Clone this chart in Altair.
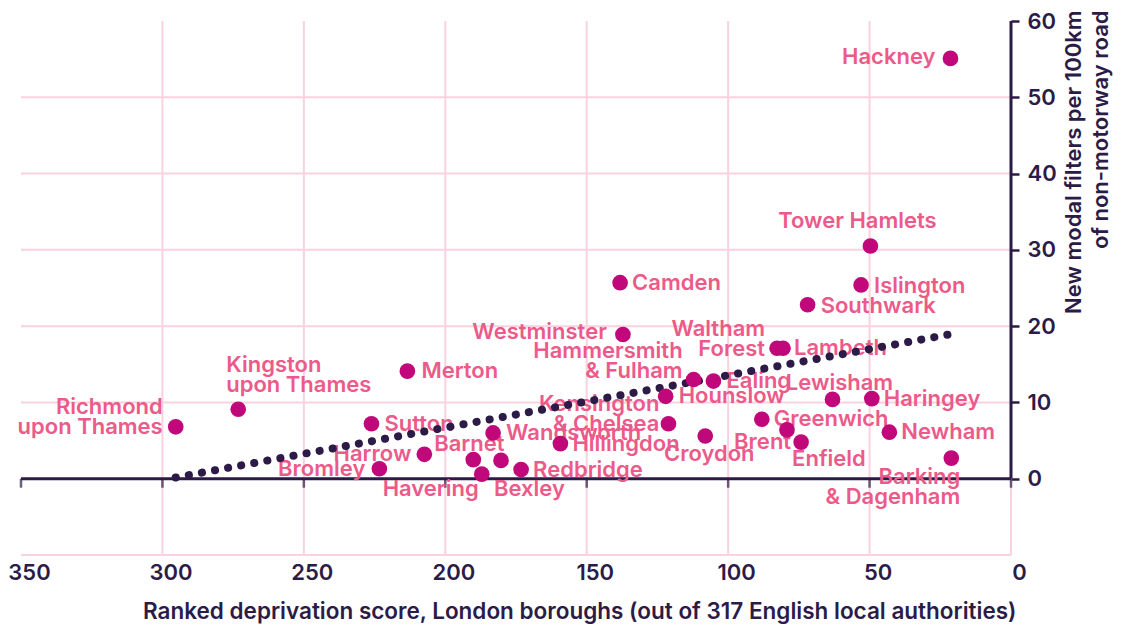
import altair as alt
import pandas as pd

# ---- data ----
boroughs = [
    "Richmond\nupon Thames", "Kingston\nupon Thames", "Merton", "Sutton", "Harrow", "Bromley",
    "Barnet", "Havering", "Bexley", "Redbridge", "Wandsworth", "Hillingdon",
    "Camden", "Westminster", "Kensington\n& Chelsea", "Hounslow", "Hammersmith\n& Fulham",
    "Ealing", "Croydon", "Waltham\nForest", "Lambeth", "Greenwich", "Enfield", "Brent",
    "Southwark", "Lewisham", "Haringey", "Tower Hamlets", "Islington", "Newham",
    "Barking\n& Dagenham", "Hackney",
]
deprivation_rank = [
    295.3, 273.2, 213.4, 226.1, 207.4, 223.3,
    190.1, 187.1, 180.3, 173.2, 183.1, 159.3,
    138.2, 137.2, 121.1, 122.1, 112.2,
    105.2, 108.1, 82.7, 80.6, 88.1, 79.2, 74.2,
    71.9, 63.1, 49.2, 49.7, 53.0, 43.0,
    21.1, 21.4,
]
modal_filters = [
    6.8, 9.1, 14.1, 7.2, 3.2, 1.3,
    2.5, 0.6, 2.4, 1.2, 6.0, 4.6,
    25.7, 18.9, 7.2, 10.8, 13.0,
    12.8, 5.6, 17.1, 17.1, 7.8, 6.4, 4.8,
    22.8, 10.4, 10.5, 30.5, 25.4, 6.1,
    2.7, 55.1,
]
x_ticks = [350, 300, 250, 200, 150, 100, 50, 0]
y_ticks = [0, 10, 20, 30, 40, 50, 60]
x_grid = [300, 250, 200, 150, 100, 50, 0]
y_grid = [-10, 0, 10, 20, 30, 40, 50]

# label placement (align, dx, dy) in pixels; dy is the first line's centre
label_place = {
    "Hackney": ("right", -15, -1),
    "Tower Hamlets": ("center", -13, -25),
    "Islington": ("left", 13, 1),
    "Southwark": ("left", 13, 1),
    "Camden": ("left", 12, 0),
    "Westminster": ("right", -16, -3),
    "Hammersmith\n& Fulham": ("right", -11, -29),
    "Waltham\nForest": ("right", -12, -19),
    "Lambeth": ("left", 11, 0),
    "Ealing": ("left", 13, 0),
    "Hounslow": ("left", 13, 0),
    "Kensington\n& Chelsea": ("right", -9, -20),
    "Lewisham": ("center", 7, -16),
    "Haringey": ("left", 12, 0),
    "Greenwich": ("left", 12, 0),
    "Brent": ("right", -10, 0),
    "Enfield": ("center", 42, 29),
    "Croydon": ("center", 4, 18),
    "Newham": ("left", 12, 0),
    "Barking\n& Dagenham": ("right", 9, 19),
    "Wandsworth": ("left", 13, 0),
    "Hillingdon": ("left", 12, 0),
    "Redbridge": ("left", 12, 0),
    "Bexley": ("left", -7, 29),
    "Havering": ("right", -3, 15),
    "Barnet": ("center", -4, -16),
    "Harrow": ("right", -13, 0),
    "Bromley": ("right", -14, 0),
    "Sutton": ("left", 13, 0),
    "Merton": ("left", 14, 0),
    "Kingston\nupon Thames": ("left", -12, -44),
    "Richmond\nupon Thames": ("right", -13, -20),
}

DARK = "#2C1B47"
PINK_TEXT = "#EC5A8A"
MAGENTA = "#C0087A"
GRID = "#FAD2DF"
FONT = "Inter"

df = pd.DataFrame({"name": boroughs, "rank": deprivation_rank, "filters": modal_filters})

x_enc = alt.X(
    "rank:Q",
    scale=alt.Scale(domain=[0, 350], reverse=True, nice=False, zero=False),
    axis=alt.Axis(
        values=x_ticks, orient="bottom", domain=False, ticks=False, tickSize=0, grid=False,
        labelFont=FONT, labelFontSize=22, labelFontWeight=600, labelColor=DARK,
        labelPadding=7, labelOffset=8, labelFlush=False, labelOverlap=False,
        title="Ranked deprivation score, London boroughs (out of 317 English local authorities)",
        titleFont=FONT, titleFontSize=22.5, titleFontWeight=600, titleColor=DARK,
        titleAlign="right", titleBaseline="alphabetic", titleX=995, titleY=63,
    ),
)
y_enc = alt.Y(
    "filters:Q",
    scale=alt.Scale(domain=[-10, 60], nice=False, zero=False),
    axis=alt.Axis(
        values=y_ticks, orient="right", domain=False, ticks=True, tickSize=8, tickWidth=2.5,
        tickColor=DARK, grid=False,
        labelFont=FONT, labelFontSize=22, labelFontWeight=600, labelColor=DARK,
        labelPadding=8, labelOverlap=False, labelFlush=False,
        title=["New modal filters per 100km", "of non-motorway road"],
        titleFont=FONT, titleFontSize=22, titleFontWeight=600, titleColor=DARK,
        titleAngle=270, titleAlign="right", titleBaseline="top",
        titleX=52, titleY=-11, titleLineHeight=27,
    ),
)

hgrid = alt.Chart(pd.DataFrame({"filters": y_grid})).mark_rule(
    color=GRID, strokeWidth=2).encode(y=y_enc)
vgrid = alt.Chart(pd.DataFrame({"rank": x_grid})).mark_rule(
    color=GRID, strokeWidth=2).encode(x=x_enc)

zero_line = alt.Chart(pd.DataFrame({"filters": [0]})).mark_rule(
    color=DARK, strokeWidth=3).encode(y=y_enc)
zero_ticks = alt.Chart(pd.DataFrame({"rank": x_ticks, "filters": [0] * len(x_ticks)})).mark_tick(
    orient="vertical", size=9, thickness=2.5, color=DARK, yOffset=4.5).encode(x=x_enc, y=y_enc)
y_line = alt.Chart(pd.DataFrame({"rank": [0], "filters": [0], "top": [60]})).mark_rule(
    color=DARK, strokeWidth=3).encode(x=x_enc, y=y_enc, y2="top:Q")

label_layers = []
for name in boroughs:
    align, dx, dy = label_place[name]
    label_layers.append(
        alt.Chart(df).transform_filter(alt.datum.name == name).mark_text(
            align=align, baseline="middle", dx=dx, dy=dy, font=FONT, fontSize=22,
            fontWeight=600, color=PINK_TEXT, lineBreak="\n", lineHeight=20,
        ).encode(x=x_enc, y=y_enc, text="name:N")
    )

trend = alt.Chart(df).transform_regression("rank", "filters").mark_line(
    color=DARK, strokeWidth=8, strokeDash=[0.1, 13.2], strokeCap="round").encode(x=x_enc, y=y_enc)

points = alt.Chart(df).mark_circle(size=245, color=MAGENTA, opacity=1).encode(x=x_enc, y=y_enc)

chart = alt.layer(
    hgrid, vgrid, zero_line, zero_ticks, y_line, *label_layers, trend, points
).properties(
    width=990, height=534,
    autosize=alt.AutoSizeParams(type="none"),
    padding={"left": 13, "top": 13, "right": 102, "bottom": 70},
    background="white",
).configure_view(stroke=None)

chart.save("out.html", embed_options={"renderer": "svg", "actions": False})
